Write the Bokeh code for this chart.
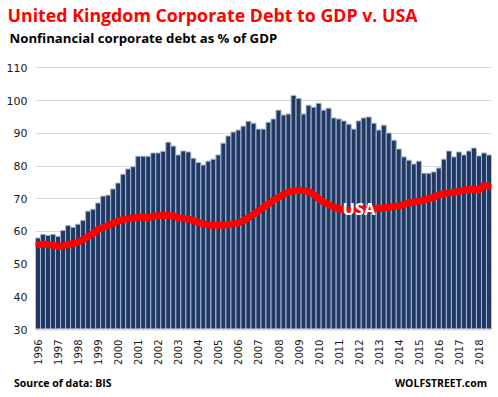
import math
from bokeh.plotting import figure
from bokeh.layouts import column
from bokeh.models import Range1d, FixedTicker, Label, ColumnDataSource, Title, Div
from bokeh.embed import file_html
from bokeh.resources import INLINE

years = list(range(1996, 2019))
quarters = list(range(91))  # 1996Q1 .. 2018Q3

uk_debt = [
    58.0, 59.1, 58.8, 59.1, 58.5, 60.3, 61.8, 61.3, 62.2, 63.4,
    66.2, 66.8, 68.7, 70.8, 71.1, 73.0, 74.8, 77.5, 79.1, 79.8,
    83.0, 83.0, 83.0, 84.0, 84.0, 84.5, 87.3, 86.1, 83.4, 84.6,
    84.3, 82.4, 81.1, 80.3, 81.5, 82.1, 83.4, 87.0, 89.2, 90.4,
    91.0, 92.2, 93.7, 93.1, 91.3, 91.3, 93.4, 94.4, 97.1, 95.6,
    95.9, 101.6, 100.7, 95.9, 98.6, 98.0, 99.2, 97.1, 97.7, 94.7,
    94.4, 93.8, 92.8, 91.3, 93.8, 94.7, 95.0, 93.1, 91.0, 92.5,
    90.1, 87.9, 85.2, 82.8, 81.8, 80.6, 81.5, 77.8, 77.8, 78.2,
    79.4, 82.1, 84.6, 82.8, 84.3, 83.4, 84.6, 85.5, 83.1, 84.0,
    83.4,
]

usa_debt = [
    56.0, 56.1, 56.0, 55.8, 55.4, 55.6, 56.0, 56.3, 56.7, 57.5,
    58.5, 59.3, 60.6, 61.2, 61.8, 62.5, 63.2, 63.6, 63.9, 64.1,
    64.3, 64.3, 64.2, 64.6, 64.8, 64.9, 64.9, 64.7, 64.2, 64.0,
    63.8, 63.3, 62.7, 62.3, 62.0, 61.9, 61.9, 61.9, 62.1, 62.3,
    62.6, 63.3, 64.2, 65.2, 66.3, 67.4, 68.4, 69.5, 70.5, 71.3,
    72.0, 72.4, 72.6, 72.4, 72.2, 71.3, 70.0, 69.0, 68.2, 67.5,
    67.0, 66.6, 66.4, 66.5, 66.6, 66.7, 66.8, 67.0, 67.1, 67.2,
    67.4, 67.6, 67.8, 68.2, 68.7, 69.0, 69.3, 69.6, 70.0, 70.5,
    71.2, 71.5, 71.8, 72.0, 72.3, 72.6, 72.8, 73.0, 72.6, 74.0,
    73.8,
]

y_ticks = [30, 40, 50, 60, 70, 80, 90, 100, 110]

# frame geometry: the 110 line sits ~22px below the frame top (room for titles)
PX_PER_UNIT = 262 / 80.0
FRAME_TOP_GAP = 21.5
y_end = y_ticks[-1] + FRAME_TOP_GAP / PX_PER_UNIT

source = ColumnDataSource(data=dict(q=quarters, uk=uk_debt, usa=usa_debt))

p = figure(width=492, height=368, output_backend="svg", toolbar_location=None,
           x_range=Range1d(-0.5, len(quarters) - 0.5),
           y_range=Range1d(y_ticks[0], y_end),
           min_border_left=35, min_border_right=1,
           min_border_top=0, min_border_bottom=39)
p.outline_line_color = None
p.background_fill_color = "white"
p.border_fill_color = "white"

p.vbar(x="q", top="uk", bottom=y_ticks[0], width=1.0, source=source,
       fill_color="#203864", line_color="#a9b7cf", line_width=1)
p.line(x="q", y="usa", source=source, line_color="#ff0000", line_width=7,
       line_join="round", line_cap="round")

p.xgrid.grid_line_color = None
p.ygrid.grid_line_color = "#d9d9d9"
p.ygrid.ticker = FixedTicker(ticks=y_ticks)

p.yaxis.ticker = FixedTicker(ticks=y_ticks)
p.yaxis.axis_line_color = None
p.yaxis.major_tick_line_color = None
p.yaxis.minor_tick_line_color = None
p.yaxis.major_tick_out = 0
p.yaxis.major_tick_in = 0
p.yaxis.major_label_standoff = 8
p.yaxis.major_label_text_font = "DejaVu Sans"
p.yaxis.major_label_text_font_size = "11px"
p.yaxis.major_label_text_color = "#1a1a1a"

year_ticks = [4 * i for i in range(len(years))]
p.xaxis.ticker = FixedTicker(ticks=year_ticks)
p.xaxis.major_label_overrides = {t: str(y) for t, y in zip(year_ticks, years)}
p.xaxis.major_label_orientation = math.pi / 2
p.xaxis.axis_line_color = "#d9d9d9"
p.xaxis.axis_line_width = 2
p.xaxis.major_tick_line_color = None
p.xaxis.minor_tick_line_color = None
p.xaxis.major_tick_out = 0
p.xaxis.major_tick_in = 0
p.xaxis.major_label_standoff = 10
p.xaxis.major_label_text_font = "DejaVu Sans"
p.xaxis.major_label_text_font_size = "10px"
p.xaxis.major_label_text_color = "#1a1a1a"

# titles (first added sits nearest the plot)
p.add_layout(Title(text="Nonfinancial corporate debt as % of GDP", align="left",
                   offset=-26, standoff=0,
                   text_font="Open Sans", text_font_style="bold", text_font_size="13.2px",
                   text_color="#000000"), "above")
p.add_layout(Title(text="United Kingdom Corporate Debt to GDP v. USA", align="left",
                   offset=-28, standoff=0,
                   text_font="Open Sans", text_font_style="bold", text_font_size="17.8px",
                   text_color="#ff0000"), "above")

p.add_layout(Label(x=323.5, y=121, x_units="screen", y_units="screen",
                   text="USA", text_align="center", text_baseline="middle",
                   text_font="Open Sans", text_font_style="bold", text_font_size="16.5px",
                   text_color="#ffffff"))

footer_html = (
    '<div style="position:relative;width:492px;height:22px;'
    'font-family:\'Open Sans\';font-weight:bold;font-size:10.5px;line-height:14px;color:#000;">'
    '<span style="position:absolute;left:14px;top:8px;white-space:nowrap;">Source of data: BIS</span>'
    '<span style="position:absolute;right:5px;top:8px;white-space:nowrap;">WOLFSTREET.com</span>'
    '</div>'
)
footer = Div(text=footer_html, width=492, height=22, margin=0)

layout = column(p, footer, spacing=0)
open("out.html", "w").write(file_html(layout, INLINE))
